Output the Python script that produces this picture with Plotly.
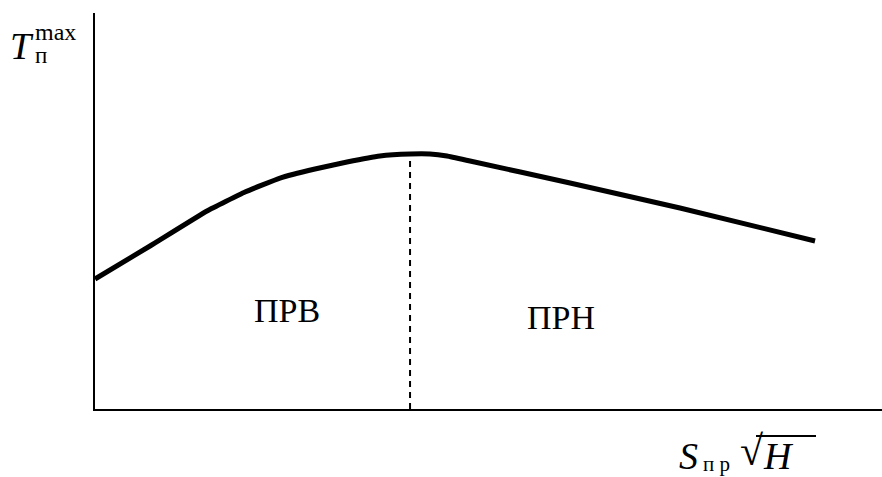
import plotly.graph_objects as go

# Curve of T_max versus S_pr*sqrt(H) (arbitrary units)
x_vals = [0.000, 0.699, 1.423, 1.906, 2.351, 2.795, 3.202, 3.621, 4.003,
          4.257, 4.473, 4.765, 6.036, 7.433, 9.149]
y_vals = [3.283, 4.116, 5.000, 5.480, 5.833, 6.061, 6.237, 6.389, 6.439,
          6.439, 6.389, 6.263, 5.707, 5.076, 4.242]

# Boundary between the two regimes (at the maximum)
x_peak = 4.003
y_peak = 6.439

region_labels = ["ПРВ", "ПРН"]
region_x = [2.44, 5.92]
region_y = [2.50, 2.30]

FONT = "Times New Roman, Liberation Serif, DejaVu Serif, serif"

fig = go.Figure()

fig.add_trace(go.Scatter(
    x=[x_peak, x_peak], y=[0, y_peak], mode="lines",
    line=dict(color="black", width=2, dash="6px,5px"),
    hoverinfo="skip", showlegend=False,
))

fig.add_trace(go.Scatter(
    x=x_vals, y=y_vals, mode="lines",
    line=dict(color="black", width=5, shape="spline", smoothing=0.3),
    hoverinfo="skip", showlegend=False,
))

for label, lx, ly in zip(region_labels, region_x, region_y):
    fig.add_annotation(x=lx, y=ly, xref="x", yref="y", text=label,
                       showarrow=False, xanchor="center", yanchor="middle",
                       font=dict(family=FONT, size=34, color="black"))

# Axis titles composed from separate pieces (symbol, super/subscripts)
W, H0, B = 787.0, 396.0, 409.0


def px(xp):
    return (xp - 95) / W


def py(yp):
    return (B - yp) / H0


def note(text, xp, yp, size, anchor="left"):
    fig.add_annotation(x=px(xp), y=py(yp), xref="paper", yref="paper",
                       text=text, showarrow=False, xanchor=anchor,
                       yanchor="middle", borderpad=0,
                       font=dict(family=FONT, size=size, color="black"))


note("<i>T</i>", 9, 46, 38)
note("max", 34, 32, 24)
note("п", 34, 55, 23)

note("<i>S</i>", 678, 456, 38)
note("п р", 702, 464, 21)
note("√", 739, 451, 42)
note("<i>H</i>", 762, 456, 38)
fig.add_shape(type="line", xref="paper", yref="paper",
              x0=px(756), x1=px(816), y0=py(436), y1=py(436),
              line=dict(color="black", width=2))

fig.update_xaxes(range=[0, 10], showline=True, linecolor="black", linewidth=2,
                 showgrid=False, zeroline=False, showticklabels=False, ticks="")
fig.update_yaxes(range=[0, 10], showline=True, linecolor="black", linewidth=2,
                 showgrid=False, zeroline=False, showticklabels=False, ticks="")

fig.update_layout(
    width=882, height=477,
    margin=dict(l=95, r=0, t=13, b=68),
    paper_bgcolor="white", plot_bgcolor="white",
    showlegend=False,
)

fig.write_html("out.html")
